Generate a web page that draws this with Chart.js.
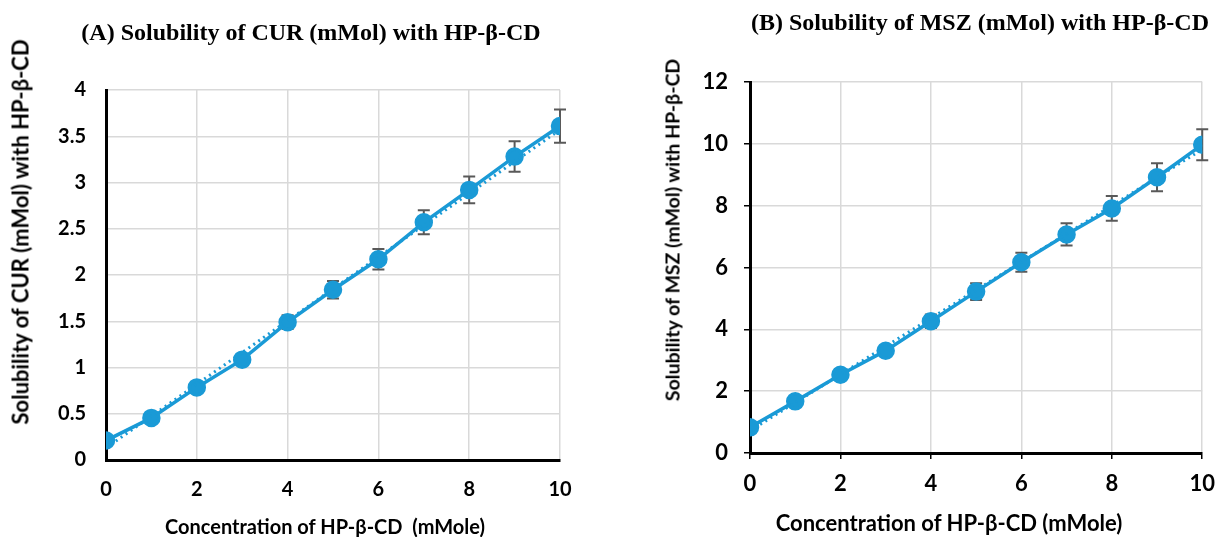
<!DOCTYPE html>
<html>
<head>
<meta charset="utf-8">
<script src="https://cdn.jsdelivr.net/npm/chart.js@4"></script>
<style>
  body { margin: 0; background: #fff; width: 1227px; height: 537px; overflow: hidden; position: relative; }
  .box { position: absolute; top: 0; height: 537px; }
  .title { position: absolute; font-family: "Liberation Serif", serif; font-weight: bold; font-size: 24px; white-space: nowrap; transform: translate(-50%, -50%); color: #000; }
  .xt { position: absolute; font-family: Lato, sans-serif; font-weight: bold; white-space: nowrap; transform: translate(-50%, -50%); color: #000; }
  .yt { position: absolute; font-family: Lato, sans-serif; font-weight: bold; white-space: nowrap; transform: translate(-50%, -50%) rotate(-90deg); color: #000; }
</style>
</head>
<body>
<div class="box" style="left:0;width:615px"><canvas id="chartA" width="615" height="537"></canvas></div>
<div class="box" style="left:615px;width:612px"><canvas id="chartB" width="612" height="537"></canvas></div>

<div class="title" style="left:311px;top:32px">(A) Solubility of CUR (mMol) with HP-β-CD</div>
<div class="title" style="left:980px;top:22px">(B) Solubility of MSZ (mMol) with HP-β-CD</div>
<div class="yt" style="left:20px;top:232px;font-size:22px">Solubility of CUR (mMol) with HP-β-CD</div>
<div class="yt" style="left:672px;top:230px;font-size:19.5px">Solubility of MSZ (mMol) with HP-β-CD</div>
<div class="xt" style="left:325px;top:526px;font-size:20px">Concentration of HP-β-CD&nbsp; (mMole)</div>
<div class="xt" style="left:949px;top:522px;font-size:22px">Concentration of HP-β-CD (mMole)</div>

<script>
const conc = [0, 1, 2, 3, 4, 5, 6, 7, 8, 9, 10];

const curValues = [0.21, 0.455, 0.785, 1.085, 1.49, 1.84, 2.17, 2.57, 2.92, 3.28, 3.61];
const curErrors = [0, 0, 0, 0.04, 0.075, 0.095, 0.11, 0.13, 0.145, 0.165, 0.18];
const curTrendX = [0, 10];
const curTrendY = [0.13, 3.57];
const curTicks = [0, 0.5, 1, 1.5, 2, 2.5, 3, 3.5, 4];

const mszValues = [0.83, 1.67, 2.53, 3.31, 4.26, 5.22, 6.17, 7.07, 7.91, 8.92, 9.97];
const mszErrors = [0, 0, 0, 0.12, 0.22, 0.27, 0.31, 0.36, 0.4, 0.45, 0.5];
const mszTrendX = [0, 10];
const mszTrendY = [0.72, 9.82];
const mszTicks = [0, 2, 4, 6, 8, 10, 12];

const xTicks = [0, 2, 4, 6, 8, 10];

const blue = "#1a9ad6";

// error bars sit behind the markers
const errorBars = {
  id: "errorBars",
  beforeDatasetsDraw(chart, args, opts) {
    const meta = chart.getDatasetMeta(1);
    const yScale = chart.scales.y;
    const ctx = chart.ctx;
    ctx.save();
    ctx.strokeStyle = "#595959";
    ctx.lineWidth = 2;
    meta.data.forEach((pt, i) => {
      const err = opts.values[i];
      if (!err) return;
      const v = chart.data.datasets[1].data[i].y;
      const top = yScale.getPixelForValue(v + err);
      const bot = yScale.getPixelForValue(v - err);
      ctx.beginPath();
      ctx.moveTo(pt.x, top);
      ctx.lineTo(pt.x, bot);
      ctx.moveTo(pt.x - 6, top);
      ctx.lineTo(pt.x + 6, top);
      ctx.moveTo(pt.x - 6, bot);
      ctx.lineTo(pt.x + 6, bot);
      ctx.stroke();
    });
    ctx.restore();
  },
};

function makeChart(id, cfg) {
  const points = conc.map((x, i) => ({ x: x, y: cfg.values[i] }));
  const trend = cfg.trendX.map((x, i) => ({ x: x, y: cfg.trendY[i] }));
  const tickFont = { family: "Lato", weight: "bold", size: cfg.fontSize };
  return new Chart(document.getElementById(id), {
    type: "line",
    data: {
      datasets: [
        {
          data: trend,
          borderColor: blue,
          borderWidth: 3,
          borderDash: [2, 4],
          pointRadius: 0,
          fill: false,
        },
        {
          data: points,
          borderColor: blue,
          backgroundColor: blue,
          borderWidth: 3.5,
          pointRadius: 7.5,
          pointBackgroundColor: blue,
          pointBorderColor: blue,
          tension: 0,
        },
      ],
    },
    options: {
      responsive: false,
      animation: false,
      layout: { padding: { top: cfg.top, right: cfg.right, left: 0, bottom: 0 } },
      plugins: {
        legend: { display: false },
        tooltip: { enabled: false },
        errorBars: { values: cfg.errors },
      },
      scales: {
        x: {
          type: "linear",
          min: 0,
          max: 10,
          afterBuildTicks: (s) => (s.ticks = xTicks.map((v) => ({ value: v }))),
          afterFit: (s) => (s.height = cfg.xHeight),
          ticks: { font: tickFont, color: "#000", padding: cfg.xPad, callback: (v) => String(v) },
          grid: {
            color: "#d9d9d9",
            lineWidth: 1.5,
            drawTicks: cfg.ticks,
            tickLength: 6,
            tickColor: "#000",
          },
          border: { color: "#000", width: 3 },
        },
        y: {
          min: 0,
          max: cfg.ticksY[cfg.ticksY.length - 1],
          afterBuildTicks: (s) => (s.ticks = cfg.ticksY.map((v) => ({ value: v }))),
          afterFit: (s) => (s.width = cfg.yWidth),
          ticks: { font: tickFont, color: "#000", padding: cfg.yPad, callback: (v) => String(v) },
          grid: {
            color: "#d9d9d9",
            lineWidth: 1.5,
            drawTicks: cfg.ticks,
            tickLength: 6,
            tickColor: "#000",
          },
          border: { color: "#000", width: 3 },
        },
      },
    },
    plugins: [errorBars],
  });
}

makeChart("chartA", {
  values: curValues,
  errors: curErrors,
  trendX: curTrendX,
  trendY: curTrendY,
  ticksY: curTicks,
  fontSize: 20,
  top: 90,
  right: 55,
  xHeight: 77,
  yWidth: 106,
  xPad: 18,
  yPad: 20,
  ticks: false,
});

makeChart("chartB", {
  values: mszValues,
  errors: mszErrors,
  trendX: mszTrendX,
  trendY: mszTrendY,
  ticksY: mszTicks,
  fontSize: 22,
  top: 82,
  right: 17,
  xHeight: 84,
  yWidth: 135,
  xPad: 12,
  yPad: 16,
  ticks: true,
});
</script>
</body>
</html>
